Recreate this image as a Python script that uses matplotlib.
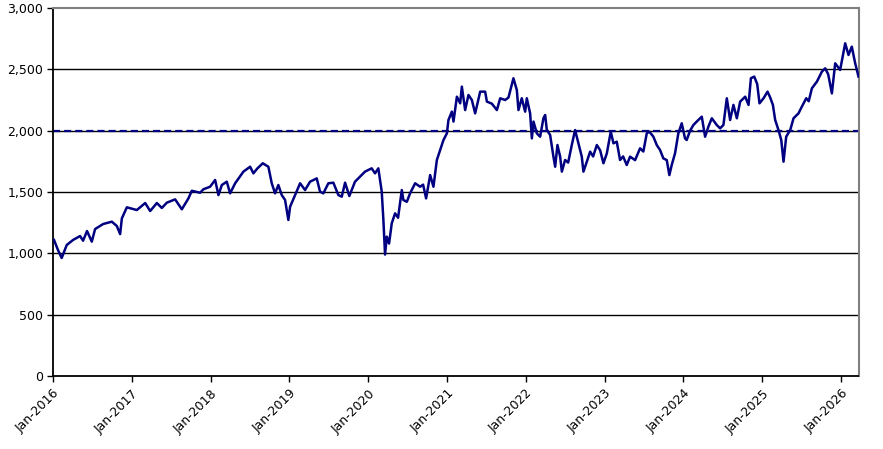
import datetime as dt

import matplotlib

matplotlib.use("Agg")
import matplotlib.dates as mdates
import matplotlib.pyplot as plt
import matplotlib.ticker as tick

# time as decimal year, value as index level
years = [
    2016.013, 2016.063, 2016.110, 2016.174, 2016.254, 2016.343, 2016.381, 2016.431,
    2016.491, 2016.533, 2016.635, 2016.745, 2016.808, 2016.850, 2016.872, 2016.935,
    2017.062, 2017.168, 2017.231, 2017.316, 2017.379, 2017.443, 2017.548, 2017.633,
    2017.717, 2017.760, 2017.865, 2017.907, 2017.992, 2018.056, 2018.098, 2018.141,
    2018.204, 2018.246, 2018.310, 2018.415, 2018.500, 2018.542, 2018.589, 2018.661,
    2018.732, 2018.775, 2018.817, 2018.859, 2018.902, 2018.944, 2018.986, 2019.008,
    2019.071, 2019.135, 2019.198, 2019.261, 2019.346, 2019.388, 2019.430, 2019.494,
    2019.557, 2019.621, 2019.664, 2019.706, 2019.760, 2019.832, 2019.959, 2020.044,
    2020.086, 2020.128, 2020.171, 2020.192, 2020.213, 2020.235, 2020.264, 2020.298,
    2020.340, 2020.378, 2020.425, 2020.445, 2020.489, 2020.530, 2020.594, 2020.657,
    2020.695, 2020.733, 2020.784, 2020.826, 2020.869, 2020.911, 2020.953, 2020.996,
    2021.016, 2021.059, 2021.080, 2021.123, 2021.165, 2021.186, 2021.228, 2021.270,
    2021.313, 2021.355, 2021.419, 2021.482, 2021.504, 2021.567, 2021.631, 2021.673,
    2021.736, 2021.778, 2021.841, 2021.884, 2021.905, 2021.947, 2021.990, 2022.011,
    2022.053, 2022.075, 2022.096, 2022.138, 2022.180, 2022.222, 2022.244, 2022.265,
    2022.307, 2022.349, 2022.371, 2022.400, 2022.434, 2022.456, 2022.497, 2022.536,
    2022.582, 2022.624, 2022.666, 2022.709, 2022.730, 2022.773, 2022.815, 2022.853,
    2022.900, 2022.942, 2022.984, 2023.027, 2023.077, 2023.111, 2023.153, 2023.195,
    2023.234, 2023.280, 2023.322, 2023.386, 2023.449, 2023.491, 2023.534, 2023.567,
    2023.618, 2023.661, 2023.703, 2023.745, 2023.788, 2023.821, 2023.851, 2023.893,
    2023.935, 2023.978, 2024.020, 2024.041, 2024.084, 2024.126, 2024.168, 2024.232,
    2024.274, 2024.316, 2024.359, 2024.422, 2024.464, 2024.506, 2024.549, 2024.591,
    2024.633, 2024.676, 2024.718, 2024.782, 2024.824, 2024.854, 2024.896, 2024.934,
    2024.963, 2025.014, 2025.065, 2025.099, 2025.133, 2025.162, 2025.204, 2025.239,
    2025.268, 2025.302, 2025.353, 2025.395, 2025.458, 2025.501, 2025.556, 2025.588,
    2025.628, 2025.692, 2025.755, 2025.797, 2025.835, 2025.882, 2025.924, 2025.987,
    2026.051, 2026.093, 2026.135, 2026.178, 2026.220,
]
values = [
    1109, 1027, 962, 1068, 1109, 1141, 1103, 1182,
    1095, 1198, 1239, 1258, 1223, 1157, 1285, 1375,
    1353, 1410, 1345, 1410, 1370, 1413, 1440, 1359,
    1448, 1510, 1494, 1522, 1543, 1598, 1475, 1557,
    1584, 1489, 1571, 1666, 1706, 1652, 1690, 1734,
    1706, 1571, 1489, 1557, 1475, 1435, 1272, 1380,
    1475, 1571, 1516, 1584, 1611, 1503, 1489, 1571,
    1576, 1475, 1462, 1576, 1467, 1584, 1666, 1693,
    1652, 1693, 1503, 1272, 990, 1136, 1080, 1245,
    1326, 1290, 1516, 1435, 1420, 1489, 1571, 1543,
    1560, 1448, 1638, 1543, 1761, 1842, 1924, 1978,
    2087, 2155, 2074, 2277, 2223, 2359, 2168, 2291,
    2250, 2141, 2318, 2318, 2237, 2220, 2168, 2264,
    2250, 2270, 2427, 2332, 2168, 2264, 2155, 2264,
    2141, 1937, 2074, 1978, 1951, 2101, 2128, 2005,
    1965, 1788, 1706, 1883, 1788, 1666, 1761, 1740,
    1883, 2005, 1897, 1788, 1666, 1747, 1829, 1790,
    1883, 1840, 1734, 1815, 1992, 1897, 1910, 1761,
    1790, 1720, 1788, 1760, 1856, 1830, 1978, 1992,
    1951, 1883, 1842, 1774, 1760, 1638, 1720, 1815,
    1978, 2060, 1937, 1924, 2000, 2046, 2074, 2114,
    1951, 2033, 2101, 2046, 2019, 2046, 2264, 2087,
    2210, 2101, 2237, 2277, 2210, 2427, 2441, 2380,
    2223, 2264, 2318, 2270, 2210, 2087, 2005, 1924,
    1747, 1951, 2005, 2101, 2141, 2196, 2264, 2240,
    2345, 2400, 2481, 2508, 2460, 2304, 2549, 2495,
    2712, 2617, 2685, 2549, 2441,
]
y_ticks = [0, 500, 1000, 1500, 2000, 2500, 3000]
reference_level = 2000

NAVY = "#000080"


def to_date(y: float) -> dt.datetime:
    yr = int(y)
    start = dt.datetime(yr, 1, 1)
    days = (dt.datetime(yr + 1, 1, 1) - start).days
    return start + dt.timedelta(days=(y - yr) * days)


dates = [to_date(y) for y in years]

fig = plt.figure(figsize=(8.83, 4.49), dpi=100)
ax = fig.add_axes([53 / 883, 1 - 376 / 449, 805.5 / 883, 368 / 449])

for v in y_ticks[1:-1]:
    ax.axhline(v, color="black", lw=1.0, zorder=1)
ax.axhline(reference_level, color=NAVY, lw=1.6, dashes=(3.2, 1.8), zorder=2)
ax.plot(dates, values, color=NAVY, lw=1.8, zorder=3)

ax.set_ylim(y_ticks[0], y_ticks[-1])
ax.set_xlim(dt.datetime(2016, 1, 1), dates[-1])
ax.set_yticks(y_ticks)
ax.yaxis.set_major_formatter(tick.FuncFormatter(lambda v, p: f"{v:,.0f}"))
ax.xaxis.set_major_locator(mdates.YearLocator())
ax.xaxis.set_major_formatter(mdates.DateFormatter("%b-%Y"))

for lbl in ax.get_xticklabels():
    lbl.set_rotation(45)
    lbl.set_ha("right")
    lbl.set_rotation_mode("anchor")

ax.tick_params(axis="both", direction="out", length=4, width=1, labelsize=9,
               color="black", pad=3)
ax.tick_params(axis="x", pad=4)
for s in ["top", "right"]:
    ax.spines[s].set_color("#808080")
    ax.spines[s].set_linewidth(1.5)
for s in ["left", "bottom"]:
    ax.spines[s].set_color("black")
    ax.spines[s].set_linewidth(1.3)

fig.savefig("out.png", dpi=100)
